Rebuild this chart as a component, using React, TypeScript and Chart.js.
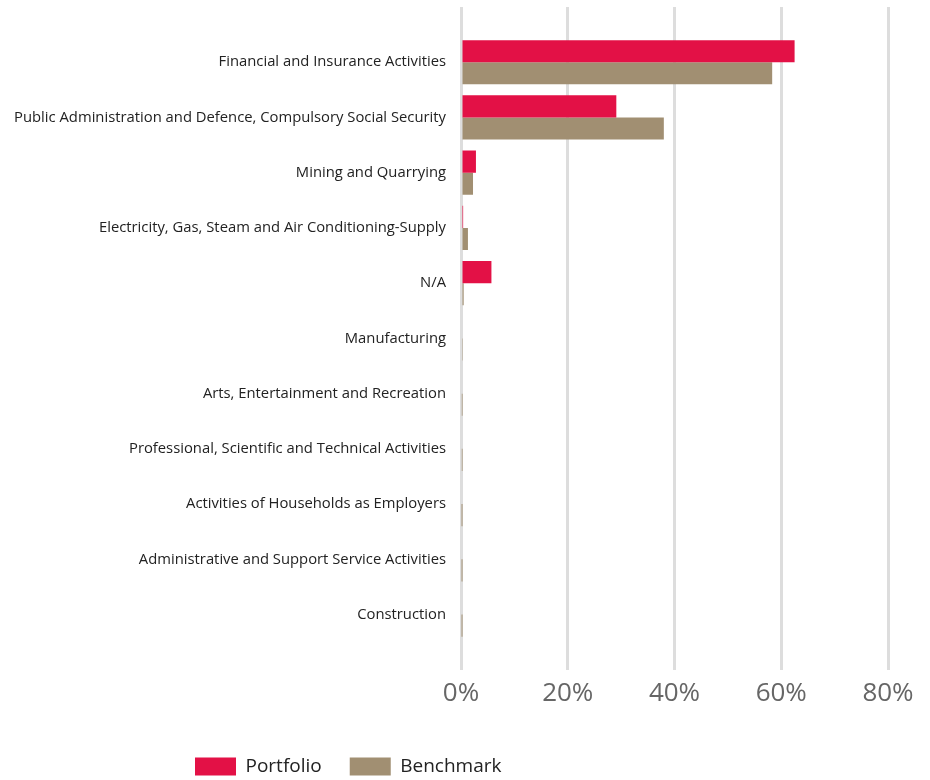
import React, { useEffect, useRef } from 'react';
import { Chart, registerables } from 'chart.js';

Chart.register(...registerables);

const categories = [
  'Financial and Insurance Activities',
  'Public Administration and Defence, Compulsory Social Security',
  'Mining and Quarrying',
  'Electricity, Gas, Steam and Air Conditioning-Supply',
  'N/A',
  'Manufacturing',
  'Arts, Entertainment and Recreation',
  'Professional, Scientific and Technical Activities',
  'Activities of Households as Employers',
  'Administrative and Support Service Activities',
  'Construction',
];

const portfolio = [62.5, 29.1, 2.8, 0.4, 5.7, 0, 0, 0, 0, 0, 0];
const benchmark = [58.3, 38.0, 2.25, 1.3, 0.5, 0.35, 0.15, 0.15, 0.1, 0.1, 0.1];

const xTicks = [0, 20, 40, 60, 80];

const FONT = "'Open Sans', 'DejaVu Sans', sans-serif";
const LEGEND_PAD = 28;

const legendPlace = {
  id: 'legendPlace',
  afterLayout(chart: any) {
    const lg = chart.legend;
    if (!lg) return;
    const w = lg.width;
    lg.left = 195 - LEGEND_PAD;
    lg.right = lg.left + w;
    lg.top = 757 - LEGEND_PAD;
    lg.height = 780 - lg.top;
    lg.bottom = 780;
  },
};

export default function App() {
  const ref = useRef<HTMLCanvasElement | null>(null);

  useEffect(() => {
    if (!ref.current) return;
    const labels = ['', ...categories, ''];
    const chart = new Chart(ref.current, {
      type: 'bar',
      data: {
        labels,
        datasets: [
          {
            label: 'Portfolio',
            data: [null, ...portfolio, null],
            backgroundColor: '#E31146',
            borderWidth: 0,
          },
          {
            label: 'Benchmark',
            data: [null, ...benchmark, null],
            backgroundColor: '#A18F72',
            borderWidth: 0,
          },
        ],
      },
      options: {
        indexAxis: 'y',
        responsive: false,
        animation: false,
        layout: { padding: { left: 0, right: 42, top: 7, bottom: 23 } },
        datasets: { bar: { categoryPercentage: 0.8, barPercentage: 1 } },
        scales: {
          x: {
            min: 0,
            max: 80,
            afterBuildTicks: (s: any) => {
              s.ticks = xTicks.map((v) => ({ value: v }));
            },
            grid: { color: '#DDDDDD', lineWidth: 3, drawTicks: false },
            border: { display: false },
            ticks: {
              padding: 8,
              color: '#666666',
              font: { family: FONT, size: 26 },
              callback: (v: any) => v + '%',
            },
          },
          y: {
            offset: false,
            afterFit: (s: any) => {
              s.width = 461;
              s.paddingTop = 0;
              s.paddingBottom = 0;
            },
            grid: { display: false, drawTicks: false },
            border: { display: false },
            ticks: {
              padding: 15,
              color: '#222222',
              autoSkip: false,
              font: { family: FONT, size: 14.8 },
            },
          },
        },
        plugins: {
          tooltip: { enabled: false },
          legend: {
            position: 'bottom',
            align: 'start',
            maxHeight: 40,
            labels: {
              boxWidth: 41,
              boxHeight: 18,
              padding: LEGEND_PAD,
              color: '#222222',
              font: { family: FONT, size: 19 },
            },
          },
        },
      },
      plugins: [legendPlace],
    } as any);
    return () => chart.destroy();
  }, []);

  return (
    <div style={{ position: 'absolute', left: 0, top: 0, width: 930, height: 780, background: '#fff' }}>
      <canvas ref={ref} width={930} height={780} />
    </div>
  );
}
